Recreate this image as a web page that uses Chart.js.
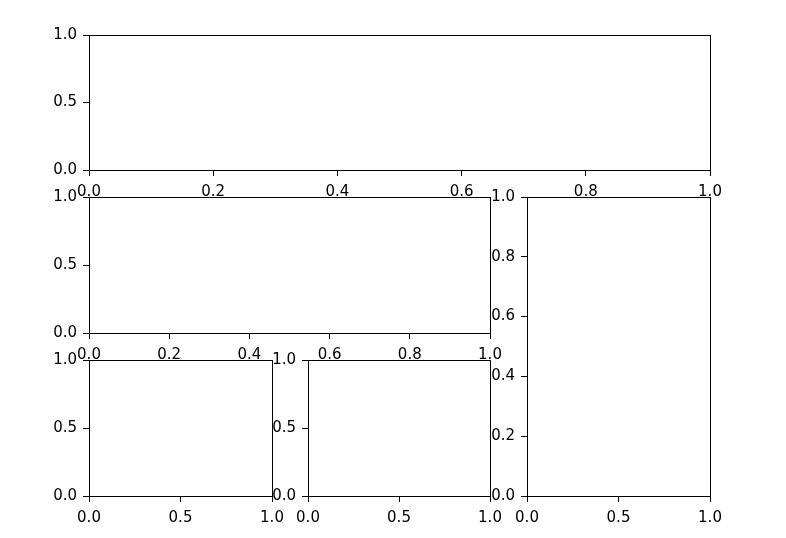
<!DOCTYPE html>
<html>
<head>
<meta charset="utf-8">
<script src="https://cdn.jsdelivr.net/npm/chart.js@4/dist/chart.umd.min.js"></script>
<style>
html,body{margin:0;padding:0;background:#fff;}
#wrap{position:relative;width:786px;height:538px;overflow:hidden;}
#wrap canvas{position:absolute;left:0;top:0;}
</style>
</head>
<body>
<div id="wrap"></div>
<script>
// Tick label values
const ticksFifths = [0, 0.2, 0.4, 0.6, 0.8, 1.0];
const ticksHalves = [0, 0.5, 1.0];
// Axis ranges
const axisMin = 0;
const axisMax = 1;
// Series (all panels are empty)
const seriesTop = [];
const seriesMiddle = [];
const seriesRight = [];
const seriesBottomLeft = [];
const seriesBottomMiddle = [];

const W = 786, H = 538;
const Y_W = 40, X_H = 30;
const FONT = {family: 'DejaVu Sans', size: 15};

const panels = [
  {data: seriesTop,          box: [89, 35, 710, 170],  xt: ticksFifths, yt: ticksHalves},
  {data: seriesMiddle,       box: [89, 197, 490, 333], xt: ticksFifths, yt: ticksHalves},
  {data: seriesBottomLeft,   box: [89, 360, 272, 496], xt: ticksHalves, yt: ticksHalves},
  {data: seriesBottomMiddle, box: [308, 360, 490, 496], xt: ticksHalves, yt: ticksHalves},
  {data: seriesRight,        box: [527, 197, 710, 496], xt: ticksHalves, yt: ticksFifths}
];

const framePlugin = {
  id: 'frame',
  afterDraw(chart) {
    const a = chart.chartArea, c = chart.ctx;
    c.save();
    c.strokeStyle = '#000';
    c.lineWidth = 1;
    c.strokeRect(Math.round(a.left) + 0.5, Math.round(a.top) + 0.5,
                 Math.round(a.right - a.left), Math.round(a.bottom - a.top));
    c.restore();
  }
};

function axis(tickVals, isX) {
  return {
    type: 'linear',
    min: axisMin,
    max: axisMax,
    afterBuildTicks(s) { s.ticks = tickVals.map(v => ({value: v})); },
    afterFit(s) {
      if (isX) s.height = X_H; else s.width = Y_W;
      s.paddingLeft = 0; s.paddingRight = 0; s.paddingTop = 0; s.paddingBottom = 0;
    },
    ticks: {
      autoSkip: false, maxRotation: 0, minRotation: 0,
      color: '#000', font: FONT, padding: isX ? 7 : 6,
      callback: v => Number(v).toFixed(1)
    },
    grid: {display: true, drawOnChartArea: false, drawTicks: true, tickLength: 6, color: '#000', tickWidth: 1},
    border: {display: true, color: '#000', width: 1}
  };
}

const wrap = document.getElementById('wrap');
panels.forEach(p => {
  const cv = document.createElement('canvas');
  cv.width = W; cv.height = H;
  cv.style.width = W + 'px'; cv.style.height = H + 'px';
  wrap.appendChild(cv);
  const [L, T, R, B] = p.box;
  new Chart(cv, {
    type: 'scatter',
    data: {datasets: [{data: p.data, pointRadius: 0}]},
    options: {
      responsive: false,
      animation: false,
      events: [],
      layout: {padding: {left: L - Y_W, top: T, right: W - R, bottom: H - B - X_H}},
      plugins: {legend: {display: false}, tooltip: {enabled: false}},
      scales: {x: axis(p.xt, true), y: axis(p.yt, false)}
    },
    plugins: [framePlugin]
  });
});
</script>
</body>
</html>
